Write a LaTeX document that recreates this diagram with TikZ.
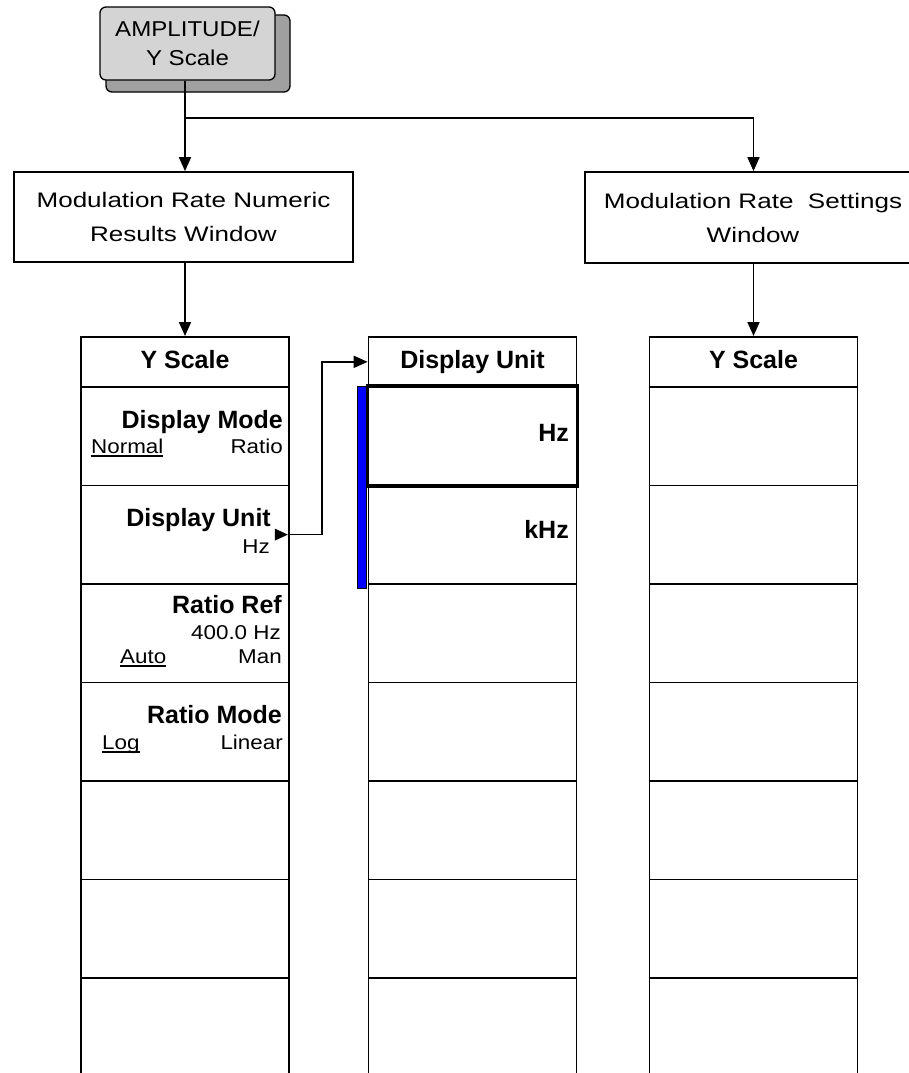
\documentclass[tikz,border=0pt]{standalone}
\usepackage{fontspec}
\setmainfont{Liberation Sans}
\newfontfamily\boxfont[FakeStretch=1.24]{Liberation Sans}
\newfontfamily\regfont[FakeStretch=1.12]{Liberation Sans}
\usetikzlibrary{arrows.meta}
\definecolor{btngray}{RGB}{212,212,212}
\definecolor{shdgray}{RGB}{160,160,160}
\definecolor{barblue}{RGB}{0,0,255}
\newcommand\keyul[1]{\setbox0\hbox{#1}\leavevmode\rlap{\rule[-3.5pt]{\wd0}{1.4pt}}\box0}
\begin{document}
\begin{tikzpicture}[x=1pt,y=-1pt,
  arr/.style={line width=1.7pt,-{Triangle[width=12pt,length=14pt]}},
  cell/.style={draw, line width=1.7pt, minimum width=208pt, minimum height=98.5pt, inner sep=0pt, anchor=north},
  ttl/.style={draw, line width=1.7pt, minimum width=208pt, minimum height=50pt, inner sep=0pt, anchor=north},
  bl/.style={font=\fontsize{25}{28}\selectfont\bfseries, inner sep=0pt},
  rg/.style={font=\regfont\fontsize{20}{24}\selectfont, inner sep=0pt},
  winbox/.style={draw, line width=1.7pt, font=\boxfont\fontsize{21}{34}\selectfont, align=center, inner sep=0pt},
  btn/.style={draw, line width=1.3pt, fill=btngray, rounded corners=6pt, minimum width=175pt, minimum height=73pt, inner sep=0pt, align=center, font=\regfont\fontsize{21.5}{29}\selectfont}
]
\clip (0,0) rectangle (909,1073);
% top key
\draw[line width=1.3pt, fill=shdgray, rounded corners=6pt] (106,15) rectangle (290,92);
\node[btn] (btn) at (187.5,43.5) {AMPLITUDE/\\Y Scale};
% window boxes
\node[winbox, minimum width=339pt, minimum height=90pt] (lbox) at (183.5,217) {Modulation Rate Numeric\\Results Window};
\node[winbox, minimum width=336pt, minimum height=91pt] (rbox) at (753,217.5) {Modulation Rate\ \ Settings\\Window};
% menu columns
\foreach \c/\x in {L/185, M/472.5, R/753.5} {
  \node[ttl] (\c0) at (\x,336) {};
  \foreach \i in {1,...,7} \node[cell] (\c\i) at (\x,{386+98.5*(\i-1)}) {};
}
\node[bl, anchor=base] (tL) at (185,368) {Y Scale};
\node[bl, anchor=base] (tM) at (472.5,368) {Display Unit};
\node[bl, anchor=base] (tR) at (753.5,368) {Y Scale};
% left column labels
\node[bl, anchor=base east] (dm) at (283,428) {Display Mode};
\node[rg, anchor=base west] (dmn) at (91,453) {\keyul{Normal}};
\node[rg, anchor=base east] (dmr) at (283,453) {Ratio};
\node[bl, anchor=base east] (du) at (271,526) {Display Unit};
\node[rg, anchor=base east] (duh) at (270,553) {Hz};
\node[bl, anchor=base east] (rr) at (282,613) {Ratio Ref};
\node[rg, anchor=base east] (rrv) at (281,639) {400.0 Hz};
\node[rg, anchor=base west] (rra) at (120,663) {\keyul{Auto}};
\node[rg, anchor=base east] (rrm) at (282,663) {Man};
\node[bl, anchor=base east] (rm) at (282,723) {Ratio Mode};
\node[rg, anchor=base west] (rml) at (102,749) {\keyul{Log}};
\node[rg, anchor=base east] (rmn) at (283,749) {Linear};
% middle column
\draw[line width=3.5pt] (M1.north west) rectangle (M1.south east);
\draw[line width=1pt, fill=barblue] (357,386) rectangle (366,588);
\node[bl, anchor=base east] (hz) at (569,441) {Hz};
\node[bl, anchor=base east] (khz) at (569,538) {kHz};
% submenu indicator
\fill ([xshift=-2pt]L2.east) -- ++(-13,-6) -- ++(0,12) -- cycle;
% connectors
\draw[arr] (btn.south -| L0.north) -- (lbox.north -| L0.north);
\coordinate (br) at (185,118);
\draw[arr] (br) -| (rbox.north -| R0.north);
\draw[arr] (lbox.south -| L0.north) -- (L0.north);
\draw[arr] (rbox.south -| R0.north) -- (R0.north);
\draw[arr] (L2.east) -- ++(32,0) |- (M0.west);
\end{tikzpicture}
\end{document}
